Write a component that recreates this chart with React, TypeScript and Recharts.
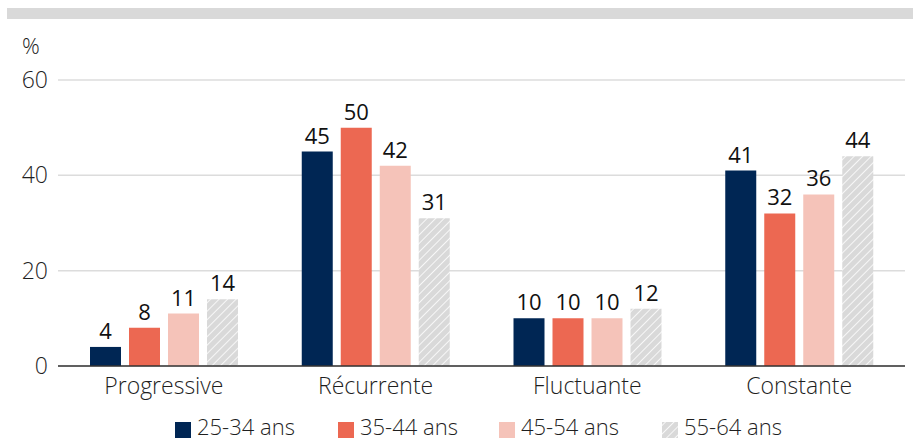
import React from "react";
import { BarChart, Bar, XAxis, YAxis, CartesianGrid, LabelList } from "recharts";

const categories = ["Progressive", "Récurrente", "Fluctuante", "Constante"];
const ages2534 = [4, 45, 10, 41];
const ages3544 = [8, 50, 10, 32];
const ages4554 = [11, 42, 10, 36];
const ages5564 = [14, 31, 12, 44];
const seriesNames = ["25-34 ans", "35-44 ans", "45-54 ans", "55-64 ans"];
const yTicks = [0, 20, 40, 60];
const edgeTicks = [0, 1, 2, 3, 4];

const FONT = "'Open Sans', sans-serif";
const TEXT = "#1f1f1f";
const fills = ["#002654", "#ec6852", "#f5c3b9", "url(#hatch)"];
const legendLeft = [175, 338, 499, 662];

const data = categories.map((cat, i) => ({
  cat,
  a: ages2534[i],
  b: ages3544[i],
  c: ages4554[i],
  d: ages5564[i],
}));
const keys = ["a", "b", "c", "d"];

function HatchDefs({ id }: { id: string }) {
  return (
    <defs>
      <pattern id={id} patternUnits="userSpaceOnUse" width="6" height="6" patternTransform="rotate(45)">
        <rect width="6" height="6" fill="#d9d9d9" />
        <line x1="0" y1="0" x2="0" y2="6" stroke="#ffffff" strokeWidth="1.6" />
      </pattern>
    </defs>
  );
}

export default function App() {
  const tickStyle = { fontFamily: FONT, fontSize: 23, fontWeight: 300, fill: TEXT };
  const valueStyle = { fontFamily: FONT, fontSize: 22, fontWeight: 400, fill: "#111" };
  return (
    <div style={{ position: "absolute", left: 0, top: 0, width: 913, height: 442, background: "#fff", fontFamily: FONT }}>
      <div style={{ position: "absolute", left: 7, top: 8, width: 906, height: 11, background: "#d9d9d9" }} />
      <div style={{ position: "absolute", left: 22, top: 30, fontSize: 22, fontWeight: 300, color: TEXT }}>%</div>
      <BarChart
        width={913}
        height={442}
        data={data}
        margin={{ top: 80, right: 8, bottom: 36, left: 0 }}
        barCategoryGap={32}
        barGap={8}
      >
        <HatchDefs id="hatch" />
        <CartesianGrid horizontal vertical={false} stroke="#dcdcdc" strokeWidth={1.5} />
        <XAxis
          xAxisId="edges"
          type="number"
          domain={[0, 4]}
          ticks={edgeTicks}
          allowDataOverflow
          height={0}
          axisLine={false}
          tickLine={{ stroke: "#333", strokeWidth: 1.5 }}
          tickSize={7}
          tickFormatter={() => ""}
        />
        <XAxis
          dataKey="cat"
          height={40}
          axisLine={{ stroke: "#333", strokeWidth: 1.5 }}
          tickLine={false}
          tickMargin={6}
          tick={tickStyle}
        />
        <YAxis
          width={58}
          domain={[0, 60]}
          ticks={yTicks}
          axisLine={false}
          tickLine={false}
          tickMargin={4}
          tick={tickStyle}
        />
        {keys.map((k, i) => (
          <Bar key={k} dataKey={k} name={seriesNames[i]} fill={fills[i]} isAnimationActive={false}>
            <LabelList dataKey={k} position="top" offset={8} fill="#111" style={valueStyle} />
          </Bar>
        ))}
      </BarChart>
      <svg width={913} height={34} style={{ position: "absolute", left: 0, top: 408 }}>
        <HatchDefs id="legendHatch" />
        {seriesNames.map((name, i) => (
          <g key={name}>
            <rect
              x={legendLeft[i]}
              y={14}
              width={16}
              height={16}
              fill={i === 3 ? "url(#legendHatch)" : fills[i]}
            />
            <text
              x={legendLeft[i] + 22}
              y={19}
              dy="0.35em"
              fontFamily={FONT}
              fontSize={22}
              fontWeight={300}
              fill={TEXT}
            >
              {name}
            </text>
          </g>
        ))}
      </svg>
    </div>
  );
}
